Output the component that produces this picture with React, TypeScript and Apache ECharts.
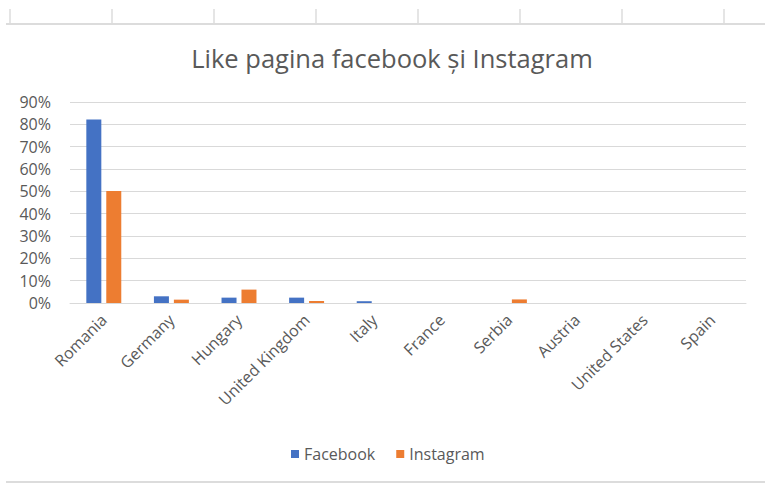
import React, { useEffect, useRef } from "react";
import * as echarts from "echarts";

const categories = ["Romania", "Germany", "Hungary", "United Kingdom", "Italy", "France", "Serbia", "Austria", "United States", "Spain"];
const facebook = [0.822, 0.030, 0.024, 0.024, 0.008, 0, 0, 0, 0, 0];
const instagram = [0.502, 0.015, 0.060, 0.009, 0, 0, 0.016, 0, 0, 0];
const seriesNames = ["Facebook", "Instagram"];
const titleText = "Like pagina facebook și Instagram";

const FONT = "'Open Sans', sans-serif";
const TXT = "#595959";
const GRID = "#d9d9d9";

export default function App() {
  const ref = useRef<HTMLDivElement>(null);
  useEffect(() => {
    if (!ref.current) return;
    const chart = echarts.init(ref.current, null, { renderer: "svg" });
    const sheetCols = [10, 112, 214, 316, 418, 520, 622, 724];
    const graphics: any[] = [
      { type: "line", shape: { x1: 6, y1: 24, x2: 765, y2: 24 }, style: { stroke: "#dcdcdc", lineWidth: 2 } },
      { type: "line", shape: { x1: 6, y1: 482, x2: 765, y2: 482 }, style: { stroke: "#dcdcdc", lineWidth: 2 } },
      ...sheetCols.map((x) => ({ type: "line", shape: { x1: x, y1: 9, x2: x, y2: 24 }, style: { stroke: "#dcdcdc", lineWidth: 1.5 } })),
    ];
    chart.setOption({
      animation: false,
      backgroundColor: "#ffffff",
      textStyle: { fontFamily: FONT },
      title: {
        text: titleText,
        left: 387,
        top: 40,
        textAlign: "center",
        textStyle: { fontFamily: FONT, fontSize: 25.5, fontWeight: "normal", color: TXT },
      },
      graphic: graphics,
      legend: {
        data: seriesNames,
        left: 286,
        top: 441,
        icon: "rect",
        itemWidth: 8,
        itemHeight: 8,
        itemGap: 21,
        textStyle: { fontFamily: FONT, fontSize: 16, color: TXT },
      },
      grid: { left: 70, right: 19, top: 102, bottom: 181, containLabel: false },
      xAxis: {
        type: "category",
        data: categories,
        axisLine: { show: true, lineStyle: { color: GRID, width: 1 } },
        axisTick: { show: false },
        axisLabel: { interval: 0, rotate: 45, fontFamily: FONT, fontSize: 16, color: TXT, margin: 14 },
      },
      yAxis: {
        type: "value",
        min: 0,
        max: 0.9,
        interval: 0.1,
        axisLine: { show: false },
        axisTick: { show: false },
        splitLine: { lineStyle: { color: GRID, width: 1 } },
        axisLabel: {
          fontFamily: FONT,
          fontSize: 16,
          color: TXT,
          margin: 19,
          formatter: (v: number) => Math.round(v * 100) + "%",
        },
      },
      series: [
        { name: seriesNames[0], type: "bar", data: facebook, barWidth: 15, barGap: "33%", itemStyle: { color: "#4472C4" } },
        { name: seriesNames[1], type: "bar", data: instagram, barWidth: 15, barGap: "33%", itemStyle: { color: "#ED7D31" } },
      ],
    });
    return () => chart.dispose();
  }, []);
  return <div ref={ref} style={{ position: "fixed", left: 0, top: 0, width: 765, height: 484 }} />;
}
